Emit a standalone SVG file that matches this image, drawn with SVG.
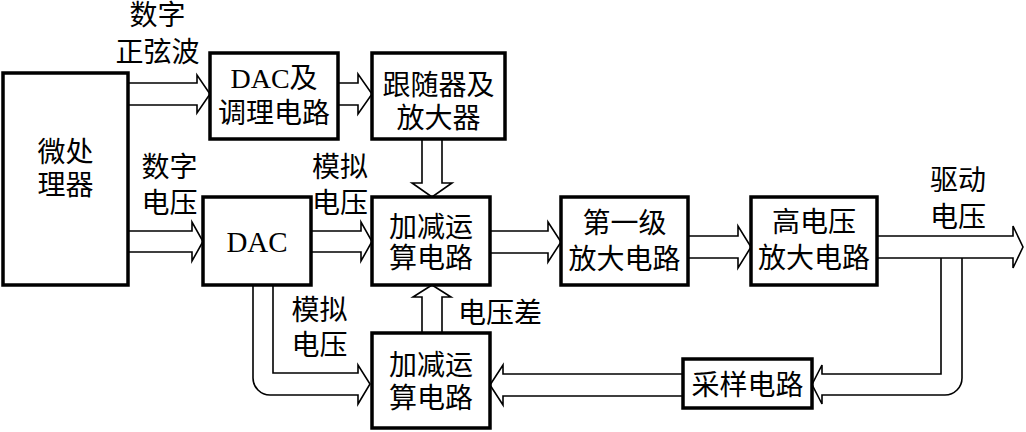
<svg xmlns="http://www.w3.org/2000/svg" width="1026" height="432" viewBox="0 0 1026 432">
<style>
.box{fill:#fff;stroke:#000;stroke-width:3.5}
.arr{fill:none;stroke:#000;stroke-width:1.6;stroke-linejoin:miter}
text{font-family:"Liberation Serif","Noto Sans CJK SC",serif;font-size:28px;fill:#000;text-anchor:middle}
</style>
<rect width="1026" height="432" fill="#fff"/>
<g id="connectors">
<path class="arr" d="M128,83 H197 V75 L210,94 L197,113 V105 H128"/>
<path class="arr" d="M338,83 H358 V74 L372,94 L358,114 V105 H338"/>
<path class="arr" d="M422,139 V183 H412 L432,197 L452,183 H442 V139"/>
<path class="arr" d="M128,231 H192 V222 L203,241.5 L192,261 V252 H128"/>
<path class="arr" d="M311,231 H361 V222 L372,241.5 L361,261 V252 H311"/>
<path class="arr" d="M490,231 H548 V222 L561,242 L548,262 V253 H490"/>
<path class="arr" d="M688,236 H738 V226 L751,247 L738,268 V258 H688"/>
<path class="arr" d="M877,236 H1013 V226 L1023,247 L1013,268 V258 H877"/>
<path class="arr" d="M941,258 V374 H822 V365 L812,384.5 L822,404 V395 H945 A17,17 0 0 0 962,378 V258"/>
<path class="arr" d="M683,374 H503 V365 L490,385 L503,405 V396 H683"/>
<path class="arr" d="M422,333 V297 H413 L432,285 L451,297 H442 V333"/>
<path class="arr" d="M273,285 V373 H358 V365 L370,384 L358,404 V395 H270 A17,17 0 0 1 253,378 V285"/>
</g>
<g id="micro">
<rect class="box" x="3" y="73" width="125" height="212"/>
<text x="65.5" y="162">微处</text>
<text x="65.5" y="195">理器</text>
</g>
<g id="dac-cond">
<rect class="box" x="210" y="53" width="128" height="86"/>
<text x="274" y="88">DAC及</text>
<text x="274" y="123">调理电路</text>
</g>
<g id="follower">
<rect class="box" x="372" y="53" width="133" height="86"/>
<text x="438.5" y="95">跟随器及</text>
<text x="438.5" y="128">放大器</text>
</g>
<g id="dac">
<rect class="box" x="203" y="197" width="108" height="88"/>
<text x="257" y="252" style="font-size:29px">DAC</text>
</g>
<g id="addsub1">
<rect class="box" x="372" y="197" width="118" height="88"/>
<text x="431" y="237">加减运</text>
<text x="431" y="268">算电路</text>
</g>
<g id="amp1">
<rect class="box" x="561" y="197" width="127" height="88"/>
<text x="624.5" y="233">第一级</text>
<text x="624.5" y="269">放大电路</text>
</g>
<g id="hvamp">
<rect class="box" x="751" y="197" width="126" height="88"/>
<text x="814" y="232">高电压</text>
<text x="814" y="268">放大电路</text>
</g>
<g id="addsub2">
<rect class="box" x="372" y="333" width="118" height="95"/>
<text x="431" y="375">加减运</text>
<text x="431" y="408">算电路</text>
</g>
<g id="sampler">
<rect class="box" x="683" y="359" width="129" height="49"/>
<text x="747.5" y="395">采样电路</text>
</g>
<g id="labels">
<text x="157.5" y="25">数字</text>
<text x="157.5" y="62">正弦波</text>
<text x="169.5" y="177">数字</text>
<text x="169.5" y="213">电压</text>
<text x="340" y="177">模拟</text>
<text x="340" y="213">电压</text>
<text x="958" y="190">驱动</text>
<text x="958" y="227">电压</text>
<text x="319.5" y="320">模拟</text>
<text x="319.5" y="355">电压</text>
<text x="500" y="323">电压差</text>
</g>
</svg>
